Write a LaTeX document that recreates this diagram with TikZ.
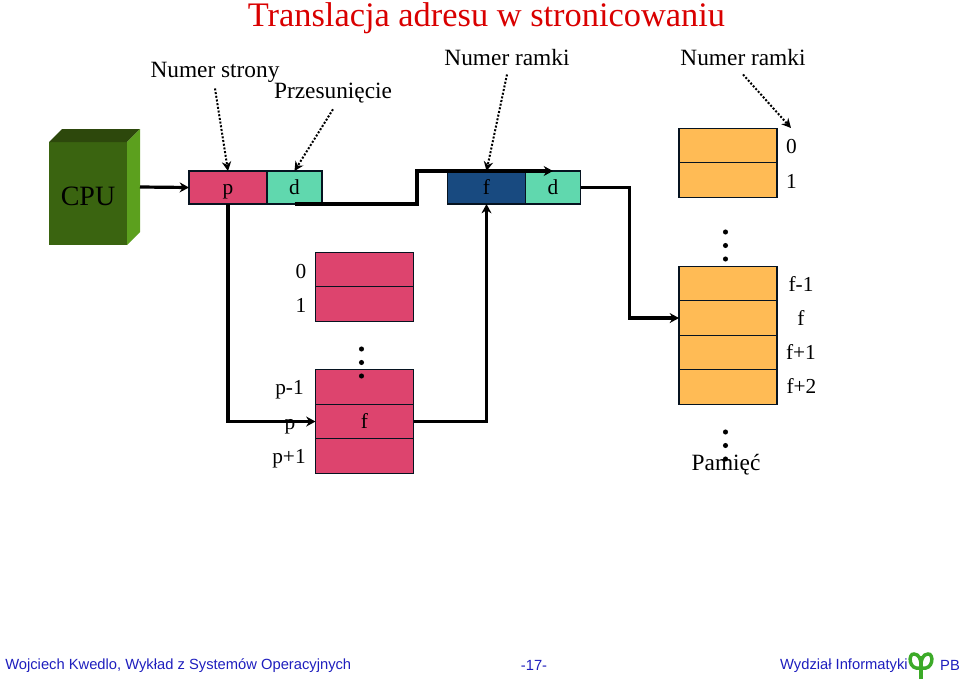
\documentclass[tikz,border=0pt]{standalone}
\usepackage{fontspec}
\setmainfont{Liberation Serif}
\newfontfamily\footfont{Liberation Sans}
\usetikzlibrary{arrows.meta, positioning, calc}
\definecolor{cPink}{RGB}{221,68,110}
\definecolor{cTeal}{RGB}{96,216,174}
\definecolor{cNavy}{RGB}{24,74,128}
\definecolor{cOrange}{RGB}{255,187,85}
\definecolor{cCpuFront}{RGB}{58,100,16}
\definecolor{cCpuTop}{RGB}{45,72,12}
\definecolor{cCpuSide}{RGB}{92,160,30}
\definecolor{cFoot}{RGB}{30,30,190}
\definecolor{cLogo}{RGB}{60,170,40}
\tikzset{
  basebox/.style={rectangle, draw=black!75!cNavy, line width=0.8pt, inner sep=0pt,
                  outer sep=0pt, font=\fontsize{16}{18}\selectfont,
                  text height=13pt, text depth=2.5pt},
  addrp/.style={basebox, minimum height=24.75pt, minimum width=58.5pt},
  addrd/.style={basebox, fill=cTeal, minimum height=24.75pt, minimum width=41.25pt},
  pagerow/.style={basebox, fill=cPink, minimum width=73.5pt, minimum height=25.9pt},
  framerow/.style={basebox, fill=cOrange, minimum width=73.5pt, minimum height=25.9pt},
  numlabel/.style={font=\fontsize{16}{18}\selectfont, inner sep=0pt,
                   text height=13pt, text depth=2.5pt},
  toplabel/.style={font=\fontsize{17.5}{20}\selectfont, inner sep=0pt},
  footlabel/.style={font=\footfont\fontsize{11.05}{13}\selectfont, text=cFoot, inner sep=0pt},
  arrow/.style={-{Stealth[length=7pt,width=7.5pt]}, line width=2.4pt, color=black},
  dotarrow/.style={-{Stealth[length=7pt,width=7pt]}, line width=1.5pt,
                   dash pattern=on 1.5pt off 1.3pt, color=black}
}
\begin{document}
\begin{tikzpicture}[x=0.75pt, y=-0.75pt]
  \useasboundingbox (0,0) rectangle (960,682);

  \node[font=\fontsize{25.8}{30}\selectfont, text=red!85!black, inner sep=0pt] (title) at (486.5,18)
      {Translacja adresu w stronicowaniu};

  \node[rectangle, fill=cCpuFront, minimum width=58.5pt, minimum height=77.25pt,
        inner sep=0pt, outer sep=0pt, font=\fontsize{21}{24}\selectfont,
        text height=18.5pt, text depth=0pt] (cpu) at (88,193.5) {CPU};
  \fill[cCpuTop] (cpu.north west) -- ++(13,-13) -- ++(78,0) -- (cpu.north east) -- cycle;
  \fill[cCpuSide] (cpu.north east) -- ++(13,-13) -- ++(0,103) -- (cpu.south east) -- cycle;
  \coordinate (cpu_out) at (140,187);

  \node[addrp, fill=cPink] (log_p) at (228,187.5) {p};
  \node[addrd, right=0pt of log_p] (log_d) {d};
  \node[addrp, fill=cNavy] (phys_f) at (486.5,187.5) {f};
  \node[addrd, right=0pt of phys_f] (phys_d) {d};
  \coordinate (step_up) at (417,171);

  \node[pagerow] (pt_0) at (364.5,269.5) {};
  \node[pagerow, below=0pt of pt_0] (pt_1) {};
  \node[pagerow] (pt_pm) at (364.5,387) {};
  \node[pagerow, below=0pt of pt_pm] (pt_p) {f};
  \node[pagerow, below=0pt of pt_p] (pt_pp) {};

  \node[framerow] (mem_0) at (728,145.5) {};
  \node[framerow, below=0pt of mem_0] (mem_1) {};
  \node[framerow] (mem_fm) at (728,283.5) {};
  \node[framerow, below=0pt of mem_fm] (mem_f) {};
  \node[framerow, below=0pt of mem_f] (mem_fp) {};
  \node[framerow, below=0pt of mem_fp] (mem_fpp) {};

  \foreach \dotx/\doty in {361.5/349, 361.5/362.5, 361.5/376,
                           725.5/232, 725.5/245.5, 725.5/259,
                           725.5/432, 725.5/445.5, 725.5/459}
    \fill[black] (\dotx,\doty) circle (1.9pt);

  \node[numlabel] (l_pt0) at (301,271) {0};
  \node[numlabel] (l_pt1) at (301,305) {1};
  \node[numlabel] (l_ptpm) at (289.5,387) {p-1};
  \node[numlabel] (l_ptp) at (290,422) {p};
  \node[numlabel] (l_ptpp) at (289,456) {p+1};
  \node[numlabel] (l_m0) at (791.5,146) {0};
  \node[numlabel] (l_m1) at (791.5,181) {1};
  \node[numlabel] (l_fm) at (801,284) {f-1};
  \node[numlabel] (l_f) at (801,318) {f};
  \node[numlabel] (l_fp) at (801,352) {f+1};
  \node[numlabel] (l_fpp) at (801.5,386) {f+2};

  \node[toplabel] (n_strony) at (215,72.5) {Numer strony};
  \node[toplabel] (n_przes) at (333,93.5) {Przesunięcie};
  \node[toplabel] (n_ramki) at (507,58) {Numer ramki};
  \node[toplabel] (n_ramki2) at (743,58) {Numer ramki};
  \node[toplabel] (n_pamiec) at (726,464.5) {Pamięć};
  \coordinate (mem_mark) at (791,128);

  \draw[dotarrow] (n_strony.south) ++(0,5.5) -- (log_p.north);
  \draw[dotarrow] (n_przes.south) ++(0,5.5) -- (log_d.north);
  \draw[dotarrow] (n_ramki.south) ++(0,8) -- (phys_f.north);
  \draw[dotarrow] (n_ramki2.south) ++(0,8) -- (mem_mark);

  \draw[arrow] (cpu_out) -- (log_p.west);
  \draw[arrow] (log_p.south) |- (pt_p.west);
  \draw[arrow] (log_d.south) -| (step_up) -- (phys_d.north);
  \draw[arrow] (pt_p.east) -| (phys_f.south);
  \draw[arrow] (phys_d.east) -- ++(49,0) |- (mem_f.west);

  \node[footlabel, anchor=west] (f_left) at (5,665.5) {Wojciech Kwedlo, Wykład z Systemów Operacyjnych};
  \node[footlabel] (f_mid) at (534,665.5) {-17-};
  \node[footlabel, anchor=east] (f_right) at (908,665.5) {Wydział Informatyki};
  \node[footlabel] (f_pb) at (950,665.5) {PB};

  \draw[cLogo, line width=2.6pt] (921,679) -- (921,656);
  \draw[cLogo, line width=2.6pt] (921,668) .. controls (908,671) and (908,653) .. (914,654)
      .. controls (919,654) and (921,660) .. (921,664);
  \draw[cLogo, line width=2.6pt] (921,668) .. controls (934,671) and (934,653) .. (928,654)
      .. controls (923,654) and (921,660) .. (921,664);
\end{tikzpicture}
\end{document}
